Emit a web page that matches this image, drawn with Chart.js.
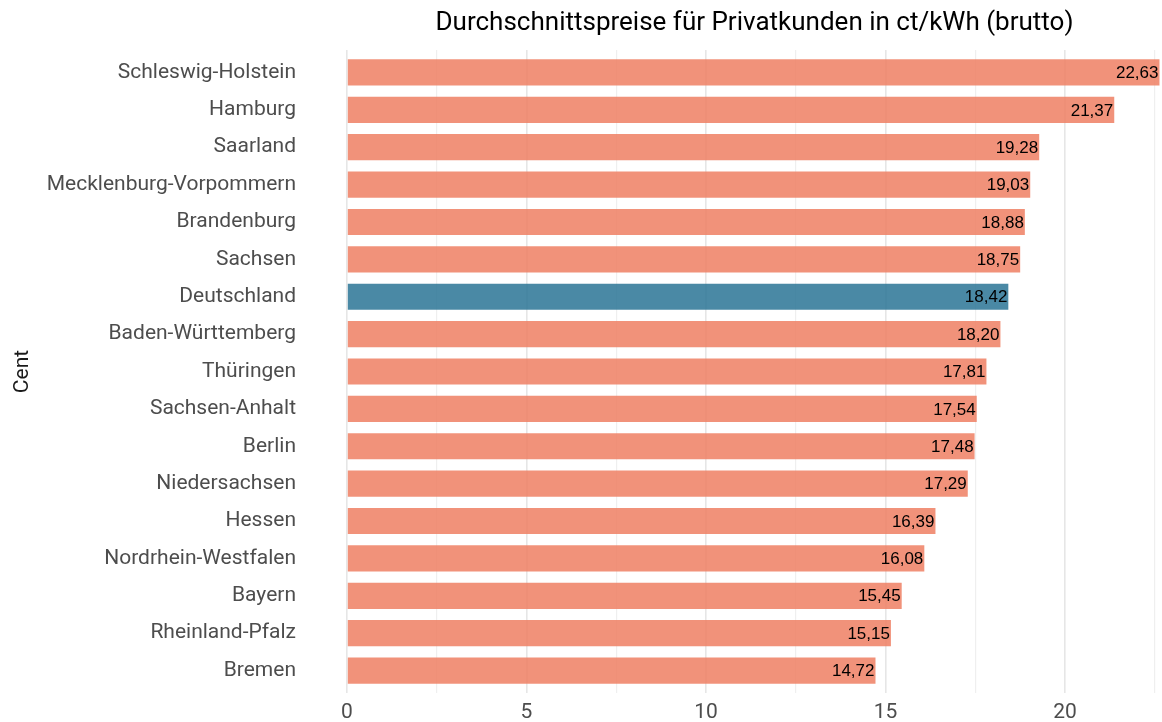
<!DOCTYPE html>
<html>
<head>
<meta charset="utf-8">
<script src="https://cdn.jsdelivr.net/npm/chart.js@4"></script>
<style>
  html, body { margin: 0; padding: 0; background: #fff; }
  #wrap { width: 1162px; height: 722px; }
</style>
</head>
<body>
<div id="wrap"><canvas id="myChart" width="1162" height="722"></canvas></div>
<script>
// Strompreise je Bundesland, ct/kWh brutto
const regions = [
  'Schleswig-Holstein', 'Hamburg', 'Saarland', 'Mecklenburg-Vorpommern',
  'Brandenburg', 'Sachsen', 'Deutschland', 'Baden-Württemberg', 'Thüringen',
  'Sachsen-Anhalt', 'Berlin', 'Niedersachsen', 'Hessen', 'Nordrhein-Westfalen',
  'Bayern', 'Rheinland-Pfalz', 'Bremen'
];
const prices = [
  22.63, 21.37, 19.28, 19.03, 18.88, 18.75, 18.42, 18.20, 17.81,
  17.54, 17.48, 17.29, 16.39, 16.08, 15.45, 15.15, 14.72
];
const xTicks = [0, 2.5, 5, 7.5, 10, 12.5, 15, 17.5, 20, 22.5];
const titleText = 'Durchschnittspreise für Privatkunden in ct/kWh (brutto)';
const yTitle = 'Cent';

const SALMON = 'rgba(239,127,99,0.85)';
const BLUE = 'rgba(42,116,149,0.85)';
const FONT = 'Roboto, "Open Sans", sans-serif';

const fmt = v => v.toFixed(2).replace('.', ',');

// Wert rechtsbündig ans Balkenende schreiben
const valueLabels = {
  id: 'valueLabels',
  afterDatasetsDraw(chart) {
    const ctx = chart.ctx;
    const meta = chart.getDatasetMeta(0);
    ctx.save();
    ctx.font = '17px "Liberation Sans", Arial, sans-serif';
    ctx.fillStyle = '#000';
    ctx.textAlign = 'right';
    ctx.textBaseline = 'middle';
    meta.data.forEach((bar, i) => {
      ctx.fillText(fmt(prices[i]), bar.x - 1, bar.y + 1);
    });
    ctx.restore();
  }
};

// keine automatische Randpolsterung für Achsenbeschriftungen
const noPad = s => { s.paddingTop = 0; s.paddingBottom = 0; s.paddingLeft = 0; s.paddingRight = 0; };

const ctx = document.getElementById('myChart').getContext('2d');
new Chart(ctx, {
  type: 'bar',
  data: {
    datasets: [{
      data: prices.map((v, i) => ({ x: v, y: i })),
      backgroundColor: regions.map(r => r === 'Deutschland' ? BLUE : SALMON),
      borderWidth: 0,
      categoryPercentage: 0.7,
      barPercentage: 1
    }]
  },
  options: {
    indexAxis: 'y',
    responsive: false,
    animation: false,
    layout: { padding: 0 },
    plugins: {
      legend: { display: false },
      tooltip: { enabled: false },
      title: {
        display: true,
        text: titleText,
        fullSize: false,
        color: '#000',
        font: { family: FONT, size: 26, weight: 'normal', lineHeight: 1.2 },
        padding: { top: 8, bottom: 10.8 }
      }
    },
    scales: {
      x: {
        type: 'linear',
        min: 0,
        max: 22.7,
        afterBuildTicks: s => { s.ticks = xTicks.map(v => ({ value: v })); },
        afterFit: s => { noPad(s); s.height = 29; },
        grid: {
          drawTicks: false,
          color: c => (c.tick && c.tick.value % 5 === 0) ? '#e6e6e6' : '#efefef',
          lineWidth: c => (c.tick && c.tick.value % 5 === 0) ? 1.6 : 1.2
        },
        border: { display: false },
        ticks: {
          padding: 7,
          color: '#4d4d4d',
          font: { family: FONT, size: 21 },
          callback: v => (v % 5 === 0 ? String(v) : '')
        }
      },
      y: {
        type: 'linear',
        reverse: true,
        offset: false,
        min: -0.6,
        max: regions.length - 0.4,
        afterBuildTicks: s => { s.ticks = regions.map((_, i) => ({ value: i })); },
        afterFit: s => { noPad(s); s.width = 347; },
        grid: { display: false, drawTicks: false },
        border: { display: false },
        title: {
          display: true,
          text: yTitle,
          color: '#1a1a1a',
          font: { family: FONT, size: 21 },
          padding: { top: 10, bottom: 0 }
        },
        ticks: {
          padding: 51,
          color: '#4d4d4d',
          font: { family: FONT, size: 21 },
          callback: v => regions[v] || ''
        }
      }
    }
  },
  plugins: [valueLabels]
});
</script>
</body>
</html>
